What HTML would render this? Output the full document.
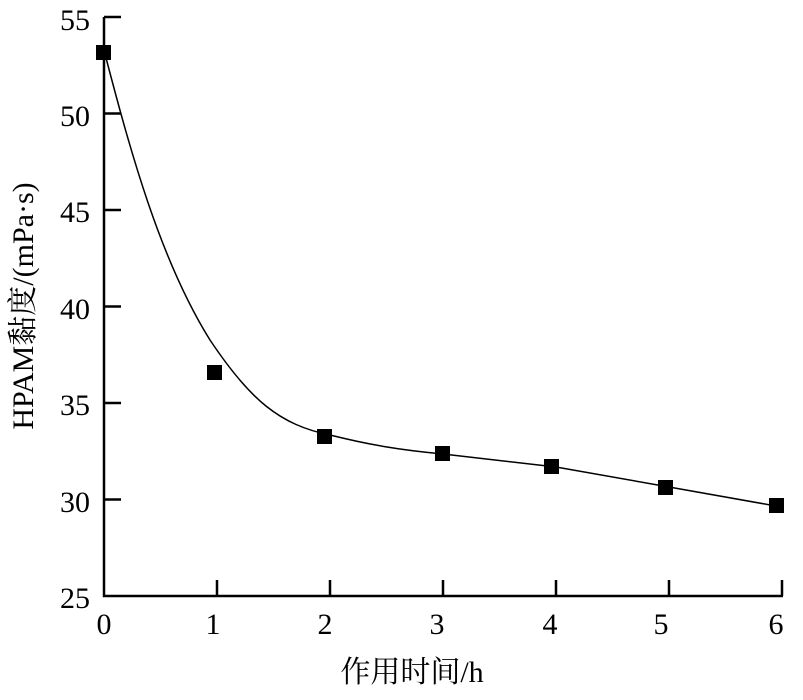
<!DOCTYPE html>
<html><head><meta charset="utf-8"><style>body{margin:0;background:#fff}</style></head><body>
<svg width="803" height="695" xmlns="http://www.w3.org/2000/svg" font-family="'Liberation Serif','Noto Serif CJK SC',serif">
<g stroke="#000" stroke-width="2.5" fill="none">
<path d="M104,17 V596 H783"/>
<path d="M104,17 h17 M104,113.5 h17 M104,210 h17 M104,306.5 h17 M104,403 h17 M104,499.5 h17"/>
<path d="M217,596 v-16 M330,596 v-16 M443,596 v-16 M556,596 v-16 M669,596 v-16 M782,596 v-16"/>
</g>
<path d="M105,54 C130,150 160,260 210,340 C250,400 280,425 330,435 C370,445 400,450 443,454 L556,467 L669,487 L776,506" stroke="#000" stroke-width="1.5" fill="none"/>
<g fill="#000">
<rect x="96" y="45" width="15" height="15"/>
<rect x="207" y="365" width="15" height="15"/>
<rect x="317" y="429" width="15" height="15"/>
<rect x="435" y="446" width="15" height="15"/>
<rect x="544" y="459" width="15" height="15"/>
<rect x="658" y="480" width="15" height="15"/>
<rect x="769" y="498" width="15" height="15"/>
</g>
<g font-size="30" text-anchor="end">
<text x="90" y="30">55</text><text x="90" y="126">50</text><text x="90" y="222">45</text>
<text x="90" y="319">40</text><text x="90" y="415">35</text><text x="90" y="512">30</text><text x="90" y="608">25</text>
</g>
<g font-size="30" text-anchor="middle">
<text x="104" y="634">0</text><text x="213" y="634">1</text><text x="325" y="634">2</text><text x="437" y="634">3</text>
<text x="550" y="634">4</text><text x="661" y="634">5</text><text x="776" y="634">6</text>
</g>
<text x="412" y="682" font-size="30" text-anchor="middle">作用时间/h</text>
<text transform="translate(33,306) rotate(-90)" font-size="30" text-anchor="middle">HPAM黏度/(mPa·s)</text>
</svg>
</body></html>
